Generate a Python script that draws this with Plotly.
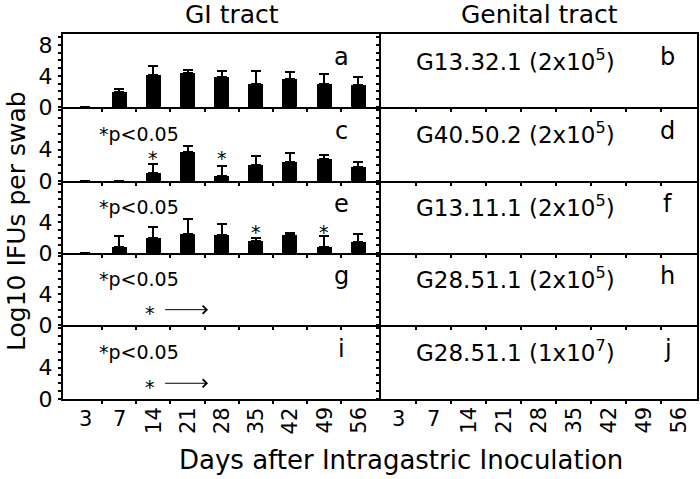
import plotly.graph_objects as go

# ---------------- data ----------------
CATEGORIES = ["3", "7", "14", "21", "28", "35", "42", "49", "56"]

GI_A_MEAN = [0, 1.9, 4.1, 4.4, 3.9, 3.0, 3.6, 2.9, 2.8]
GI_A_TOP = [0, 2.3, 5.3, 4.8, 4.7, 4.6, 4.55, 4.2, 3.8]
GI_C_MEAN = [0, 0, 1.0, 3.7, 0.6, 2.0, 2.4, 2.75, 1.8]
GI_C_TOP = [0, 0, 2.1, 4.5, 1.9, 3.2, 3.6, 3.3, 2.4]
GI_E_MEAN = [0, 0.8, 1.9, 2.5, 2.3, 1.6, 2.4, 0.8, 1.5]
GI_E_TOP = [0, 2.2, 3.35, 4.4, 3.85, 2.0, 2.6, 2.2, 2.5]

GI_SERIES = [(GI_A_MEAN, GI_A_TOP), (GI_C_MEAN, GI_C_TOP), (GI_E_MEAN, GI_E_TOP), None, None]

LEFT_LETTERS = ["a", "c", "e", "g", "i"]
RIGHT_LETTERS = ["b", "d", "f", "h", "j"]
RIGHT_LABELS = [
    "G13.32.1 (2x10<sup>5</sup>)",
    "G40.50.2 (2x10<sup>5</sup>)",
    "G13.11.1 (2x10<sup>5</sup>)",
    "G28.51.1 (2x10<sup>5</sup>)",
    "G28.51.1 (1x10<sup>7</sup>)",
]
SIG_ROWS = [1, 2, 3, 4]
SIG_TEXT = "*p<0.05"
STAR_POINTS = {1: [("14", 2.9), ("28", 2.9)], 2: [("35", 2.8), ("49", 2.8)]}
ARROW_ROWS = [3, 4]
ARROW_STAR_X = 1.9
ARROW_FROM_X = 2.3
ARROW_TO_X = 3.6
ARROW_Y = 2.0

Y_TICKS_TOP = [0, 4, 8]
Y_TICKS_OTHER = [0, 4]

COL_TITLES = ["GI tract", "Genital tract"]
X_TITLE = "Days after Intragastric Inoculation"
Y_TITLE = "Log10 IFUs per swab"

# ---------------- layout geometry ----------------
W, H = 700, 479
FONT = "DejaVu Sans"
ROW_EDGES = [34, 107, 181, 253, 325, 399]
COL_EDGES = [63, 381, 697]
X_RANGES = [[-0.65, 8.67], [-0.49, 8.54]]
Y_RANGE = [0, 9.4]


def px_x(p):
    return p / W


def px_y(p):
    return 1 - p / H


fig = go.Figure()
layout = dict(
    width=W, height=H,
    autosize=False,
    margin=dict(l=0, r=0, t=0, b=0, pad=0),
    paper_bgcolor="white", plot_bgcolor="white",
    showlegend=False,
    font=dict(family=FONT, color="black"),
    bargap=0,
)
annotations = []


def note(**kw):
    base = dict(showarrow=False, xanchor="center", yanchor="middle")
    base.update(kw)
    annotations.append(base)


for r in range(5):
    for c in range(2):
        n = r * 2 + c + 1
        xa = "xaxis" if n == 1 else f"xaxis{n}"
        ya = "yaxis" if n == 1 else f"yaxis{n}"
        xr = "x" if n == 1 else f"x{n}"
        yr = "y" if n == 1 else f"y{n}"
        layout[xa] = dict(
            domain=[px_x(COL_EDGES[c]), px_x(COL_EDGES[c + 1])],
            anchor=yr,
            range=X_RANGES[c],
            automargin=False,
            showline=True, linecolor="black", linewidth=2,
            mirror=True if r == 0 else False,
            showgrid=False, zeroline=False,
            tickvals=[i + 0.5 for i in range(len(CATEGORIES) - 1)],
            ticks="outside", ticklen=3, tickwidth=2, tickcolor="black",
            showticklabels=False,
            fixedrange=True,
        )
        layout[ya] = dict(
            domain=[px_y(ROW_EDGES[r + 1]), px_y(ROW_EDGES[r])],
            anchor=xr,
            range=Y_RANGE,
            automargin=False,
            showline=True, linecolor="black", linewidth=2,
            mirror=True if c == 1 else False,
            showgrid=False, zeroline=False,
            tickvals=(Y_TICKS_TOP if r == 0 else Y_TICKS_OTHER),
            ticks="outside", ticklen=3, tickwidth=2, tickcolor="black",
            minor=dict(dtick=1, ticks="outside", ticklen=3, tickwidth=2, tickcolor="black"),
            showticklabels=(c == 0),
            tickfont=dict(size=22, family=FONT, color="black"),
            ticklabelstandoff=1,
            fixedrange=True,
        )
        # placeholder so every axis is drawn
        fig.add_trace(go.Scatter(x=[None], y=[None], xaxis=xr, yaxis=yr,
                                 mode="markers", hoverinfo="skip"))

        if c == 0:
            series = GI_SERIES[r]
            if series is not None:
                mean, top = series
                fig.add_trace(go.Bar(
                    x=list(range(len(CATEGORIES))), y=mean, width=0.44,
                    marker=dict(color="black", line=dict(width=0)),
                    error_y=dict(type="data", symmetric=False,
                                 array=[t - m for m, t in zip(mean, top)],
                                 arrayminus=[0] * len(mean),
                                 color="black", thickness=2, width=5),
                    xaxis=xr, yaxis=yr,
                ))
            note(x=7.5, y=6.4, xref=xr, yref=yr, text=LEFT_LETTERS[r],
                 font=dict(size=24, family=FONT))
            if r in SIG_ROWS:
                note(x=0.35, y=6.0, xref=xr, yref=yr, text=SIG_TEXT, xanchor="left",
                     font=dict(size=19, family=FONT))
            for cat, sy in STAR_POINTS.get(r, []):
                note(x=CATEGORIES.index(cat), y=sy, xref=xr, yref=yr, text="*",
                     font=dict(size=19, family=FONT))
            if r in ARROW_ROWS:
                note(x=ARROW_STAR_X, y=ARROW_Y - 0.45, xref=xr, yref=yr, text="*",
                     font=dict(size=19, family=FONT))
                annotations.append(dict(x=ARROW_TO_X, y=ARROW_Y, ax=ARROW_FROM_X, ay=ARROW_Y,
                                        xref=xr, yref=yr, axref=xr, ayref=yr, text="",
                                        showarrow=True, arrowhead=4, arrowsize=1.6,
                                        arrowwidth=1, arrowcolor="black"))
        else:
            note(x=3.34, y=6.1, xref=xr, yref=yr, text=RIGHT_LABELS[r],
                 font=dict(size=23, family=FONT))
            note(x=7.7, y=6.4, xref=xr, yref=yr, text=RIGHT_LETTERS[r],
                 font=dict(size=24, family=FONT))

# category tick labels on the bottom row (single digits upright, others rotated)
for c, xr in enumerate(["x9", "x10"]):
    for i, lab in enumerate(CATEGORIES):
        note(x=i, y=px_y(ROW_EDGES[-1] + 6), xref=xr, yref="paper", text=lab,
             textangle=0 if len(lab) == 1 else -90, yanchor="top",
             font=dict(size=21, family=FONT))

# column titles
note(x=px_x(232), y=px_y(15), xref="paper", yref="paper", text=COL_TITLES[0],
     font=dict(size=25, family=FONT))
note(x=px_x(539), y=px_y(15), xref="paper", yref="paper", text=COL_TITLES[1],
     font=dict(size=25, family=FONT))
# axis titles
note(x=px_x(401), y=px_y(460), xref="paper", yref="paper", text=X_TITLE,
     font=dict(size=26, family=FONT))
note(x=px_x(16), y=px_y(221), xref="paper", yref="paper", text=Y_TITLE,
     textangle=-90, font=dict(size=25, family=FONT))

layout["annotations"] = annotations
fig.update_layout(**layout)
fig.write_html("out.html", config={"displayModeBar": False},
               post_script="document.body.style.margin='0';document.body.style.padding='0';")
